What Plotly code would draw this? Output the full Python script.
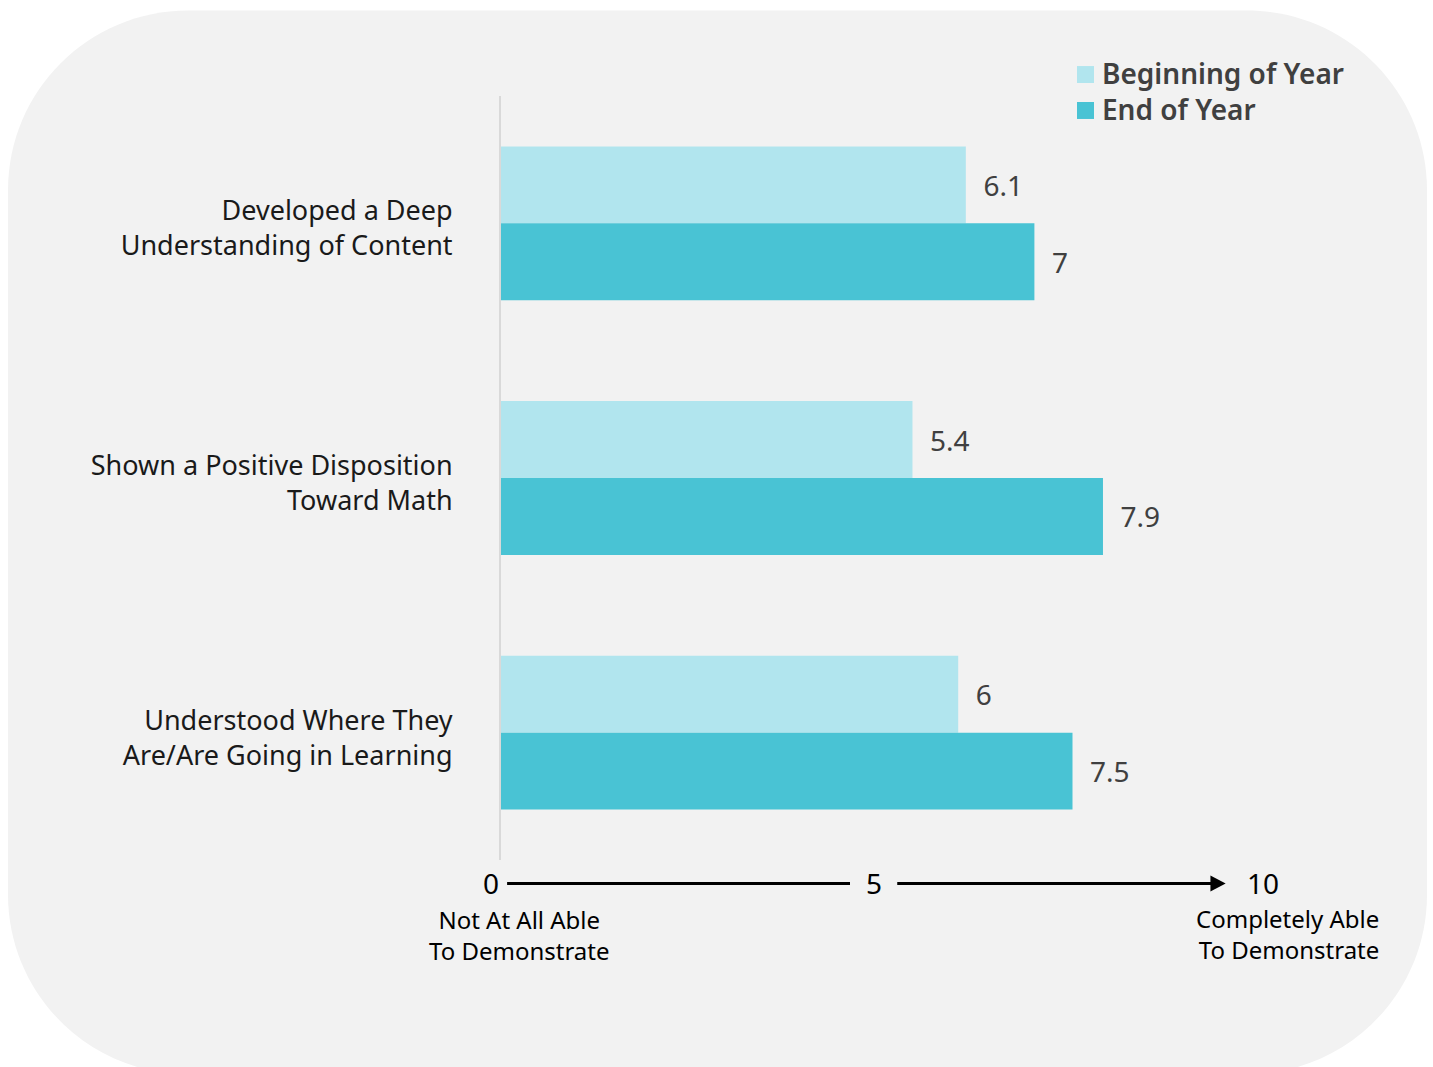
import plotly.graph_objects as go

categories = ["Developed a Deep<br>Understanding of Content",
              "Shown a Positive Disposition<br>Toward Math",
              "Understood Where They<br>Are/Are Going in Learning"]
beginning = [6.1, 5.4, 6.0]
end_year = [7.0, 7.9, 7.5]
series_names = ["Beginning of Year", "End of Year"]
series_colors = ["#b1e5ee", "#49c3d4"]
tick_vals = [0, 5, 10]
tick_text = ["0", "5", "10"]
low_label = "Not At All Able<br>To Demonstrate"
high_label = "Completely Able<br>To Demonstrate"

W, H = 1433, 1067
PL, PR, PT, PB = 501, 1263, 95.5, 860.5
FONT = "Segoe UI, Noto Sans, Open Sans, sans-serif"


def px(x):
    return (x - PL) / (PR - PL)


def py(y):
    return (PB - y) / (PB - PT)


fig = go.Figure()
for name, vals, col in zip(series_names, [beginning, end_year], series_colors):
    fig.add_trace(go.Bar(y=categories, x=vals, name=name, orientation="h",
                         marker=dict(color=col, line=dict(width=0)),
                         texttemplate="\u00a0\u00a0%{x}", textposition="outside",
                         textfont=dict(size=28, color="#404040", family=FONT),
                         cliponaxis=False, showlegend=False))

# rounded background panel
L, R, T, B, r = 8, 1427, 10, 1075, 180
k = 0.5523 * r
pts = [
    f"M {px(L + r)},{py(T)}",
    f"L {px(R - r)},{py(T)}",
    f"C {px(R - r + k)},{py(T)} {px(R)},{py(T + r - k)} {px(R)},{py(T + r)}",
    f"L {px(R)},{py(B - r)}",
    f"C {px(R)},{py(B - r + k)} {px(R - r + k)},{py(B)} {px(R - r)},{py(B)}",
    f"L {px(L + r)},{py(B)}",
    f"C {px(L + r - k)},{py(B)} {px(L)},{py(B - r + k)} {px(L)},{py(B - r)}",
    f"L {px(L)},{py(T + r)}",
    f"C {px(L)},{py(T + r - k)} {px(L + r - k)},{py(T)} {px(L + r)},{py(T)} Z",
]
shapes = [dict(type="path", xref="paper", yref="paper", path=" ".join(pts),
               fillcolor="#f2f2f2", line=dict(width=0), layer="below")]

# custom arrow axis
axis_y = py(884)
shapes.append(dict(type="line", xref="x", yref="paper", x0=0.08, x1=4.58, y0=axis_y, y1=axis_y,
                   line=dict(color="black", width=3)))
shapes.append(dict(type="line", xref="x", yref="paper", x0=5.2, x1=9.35, y0=axis_y, y1=axis_y,
                   line=dict(color="black", width=3)))
shapes.append(dict(type="path", xref="x", yref="paper",
                   path=f"M 9.51,{axis_y} L 9.31,{py(876)} L 9.31,{py(892)} Z",
                   fillcolor="black", line=dict(width=0)))

annotations = []
shifts = [-10, -8, 0]
for v, t, s in zip(tick_vals, tick_text, shifts):
    annotations.append(dict(x=v, y=axis_y, xref="x", yref="paper", text=t, showarrow=False,
                            xanchor="center", yanchor="middle", xshift=s,
                            font=dict(size=28, color="black", family=FONT)))
annotations.append(dict(x=tick_vals[0], y=py(902), xref="x", yref="paper", text=low_label,
                        showarrow=False, xanchor="center", yanchor="top", xshift=18, align="center",
                        font=dict(size=24, color="black", family=FONT)))
annotations.append(dict(x=tick_vals[-1], y=py(901), xref="x", yref="paper", text=high_label,
                        showarrow=False, xanchor="right", yanchor="top", xshift=118, align="right",
                        font=dict(size=24, color="black", family=FONT)))

# custom legend
for i, (name, col) in enumerate(zip(series_names, series_colors)):
    cy = 74 + 36 * i
    shapes.append(dict(type="rect", xref="paper", yref="paper",
                       x0=px(1077), x1=px(1094), y0=py(cy - 8.5), y1=py(cy + 8.5),
                       fillcolor=col, line=dict(width=0)))
    annotations.append(dict(x=px(1100), y=py(cy - 1.5), xref="paper", yref="paper", text=name,
                            showarrow=False, xanchor="left", yanchor="middle",
                            font=dict(size=28, color="#404040", family=FONT, weight=600)))

fig.update_layout(
    width=W, height=H,
    margin=dict(l=PL, r=W - PR, t=PT, b=H - PB, pad=0),
    paper_bgcolor="white", plot_bgcolor="rgba(0,0,0,0)",
    barmode="group", bargap=0.396, bargroupgap=0,
    shapes=shapes, annotations=annotations,
    showlegend=False,
    font=dict(family=FONT),
)
fig.update_xaxes(range=[0, 10], visible=False, showgrid=False, zeroline=False)
fig.update_yaxes(autorange="reversed", showgrid=False, zeroline=False, showline=True,
                 linecolor="#d9d9d9", linewidth=2, ticks="", ticklabelstandoff=41,
                 ticklabelshift=-5,
                 tickfont=dict(size=27, color="#1a1a1a", family=FONT))

fig.write_html("out.html")
